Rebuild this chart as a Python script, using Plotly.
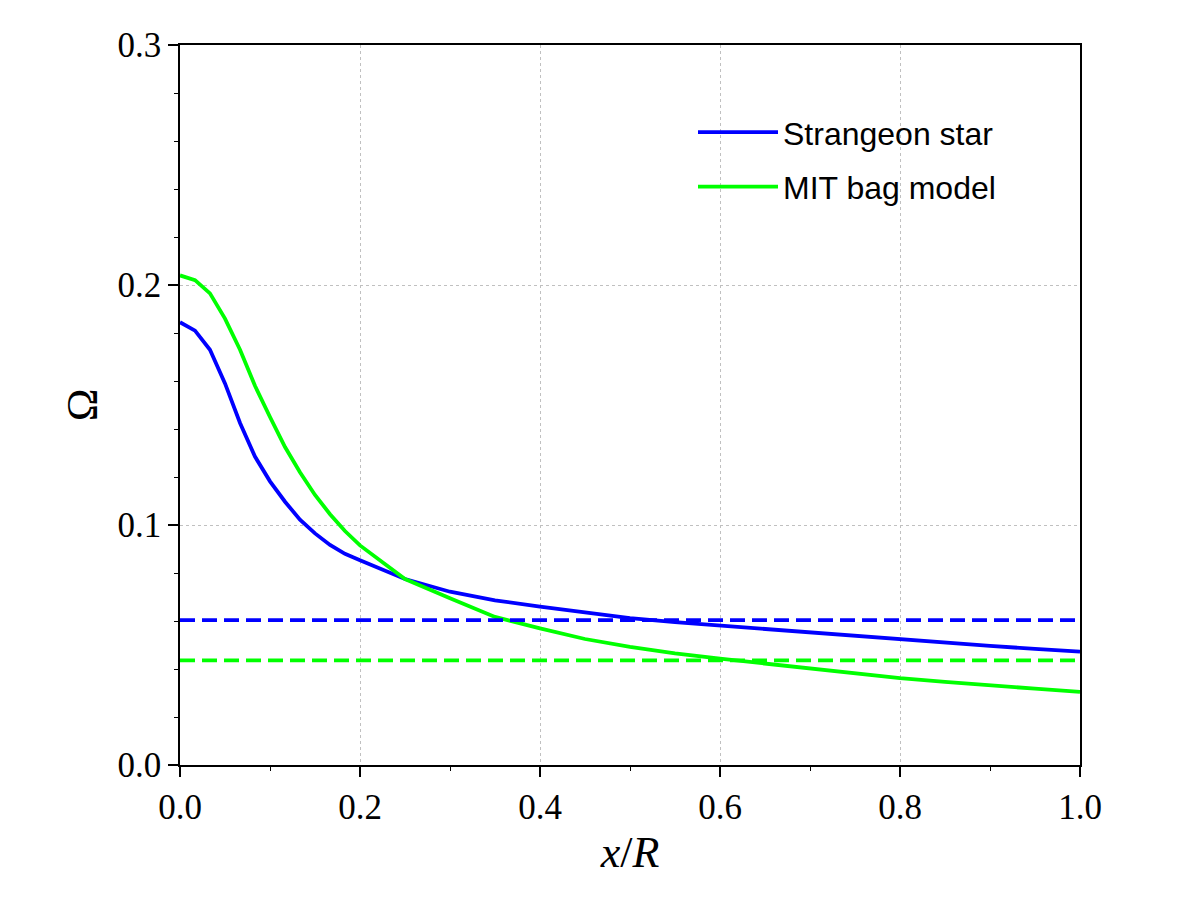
import plotly.graph_objects as go

# ---- data ----
x_vals = [0.0, 0.0167, 0.0333, 0.05, 0.0667, 0.0833, 0.1, 0.1167, 0.1333, 0.15,
          0.1667, 0.1833, 0.2, 0.25, 0.3, 0.35, 0.4, 0.45, 0.5, 0.55, 0.6, 0.65,
          0.7, 0.75, 0.8, 0.85, 0.9, 0.95, 1.0]
strangeon = [0.1845, 0.181, 0.173, 0.159, 0.1425, 0.1285, 0.1182, 0.1097, 0.1022, 0.0965,
             0.0917, 0.088, 0.0853, 0.0775, 0.0722, 0.0686, 0.066, 0.0635, 0.0612, 0.0595,
             0.0581, 0.0565, 0.0552, 0.0538, 0.0522, 0.0508, 0.0496, 0.0484, 0.0472]
mit_bag = [0.204, 0.202, 0.1965, 0.186, 0.173, 0.158, 0.145, 0.1325, 0.122, 0.1125,
           0.1045, 0.0975, 0.0915, 0.0775, 0.0695, 0.0617, 0.0569, 0.0525, 0.0492, 0.0465,
           0.0443, 0.0422, 0.0402, 0.0382, 0.0362, 0.0346, 0.0331, 0.0318, 0.0305]
dash_x = [0.0, 1.0]
strangeon_const = [0.0604, 0.0604]
mit_const = [0.0436, 0.0436]

x_ticks = [0.0, 0.2, 0.4, 0.6, 0.8, 1.0]
x_ticklabels = ["0.0", "0.2", "0.4", "0.6", "0.8", "1.0"]
y_ticks = [0.0, 0.1, 0.2, 0.3]
y_ticklabels = ["0.0", "0.1", "0.2", "0.3"]

BLUE = "#0000ff"
GREEN = "#00ff00"

fig = go.Figure()
fig.add_trace(go.Scatter(x=x_vals, y=strangeon, mode="lines", name="Strangeon star",
                         line=dict(color=BLUE, width=3.8), legendgroup="a"))
fig.add_trace(go.Scatter(x=x_vals, y=mit_bag, mode="lines", name="MIT bag model",
                         line=dict(color=GREEN, width=3.8), legendgroup="b"))
fig.add_trace(go.Scatter(x=dash_x, y=strangeon_const, mode="lines", showlegend=False,
                         line=dict(color=BLUE, width=3.8, dash="15px,7px")))
fig.add_trace(go.Scatter(x=dash_x, y=mit_const, mode="lines", showlegend=False,
                         line=dict(color=GREEN, width=3.8, dash="15px,7px")))

tickfont = dict(family="Liberation Serif", size=35, color="black")

fig.update_layout(
    width=1200, height=900,
    margin=dict(l=180, r=120, t=45, b=135),
    paper_bgcolor="white", plot_bgcolor="white",
    showlegend=True,
    legend=dict(x=0.570, y=0.917, xanchor="left", yanchor="top",
                font=dict(family="Liberation Sans", size=32, color="black"),
                bgcolor="rgba(0,0,0,0)", itemwidth=80, traceorder="grouped",
                tracegroupgap=10),
    xaxis=dict(range=[0, 1], tickvals=x_ticks, ticktext=x_ticklabels,
               showline=True, linecolor="black", linewidth=1.5, mirror=True,
               ticks="outside", ticklen=10, tickwidth=1.5, tickcolor="black",
               tickfont=tickfont, showgrid=True, gridcolor="#c0c0c0", griddash="dot",
               gridwidth=1, zeroline=False,
               minor=dict(dtick=0.1, tick0=0, ticks="outside", ticklen=4,
                          tickwidth=1, tickcolor="black", showgrid=False),
               title=dict(text="<i>x</i>/<i>R</i>", font=dict(family="Liberation Serif",
                                                           size=44, color="black"),
                          standoff=10)),
    yaxis=dict(range=[0, 0.3], tickvals=y_ticks, ticktext=y_ticklabels,
               showline=True, linecolor="black", linewidth=1.5, mirror=True,
               ticks="outside", ticklen=10, tickwidth=1.5, tickcolor="black",
               tickfont=tickfont, showgrid=True, gridcolor="#c0c0c0", griddash="dot",
               gridwidth=1, zeroline=False,
               minor=dict(dtick=0.02, tick0=0, ticks="outside", ticklen=4,
                          tickwidth=1, tickcolor="black", showgrid=False),
               title=dict(text="Ω", font=dict(family="Liberation Serif", size=44,
                                              color="black"),
                          standoff=6)),
)

fig.write_html("out.html")
